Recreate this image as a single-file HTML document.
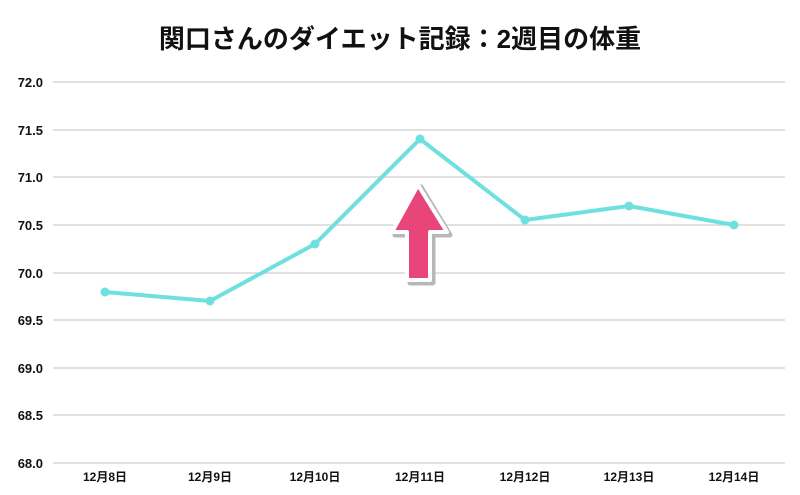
<!DOCTYPE html>
<html><head><meta charset="utf-8"><style>body{margin:0;background:#fff}svg{display:block}</style></head><body>
<svg width="800" height="495" xmlns="http://www.w3.org/2000/svg" font-family="Liberation Sans, Noto Sans CJK JP, sans-serif">
<text x="400" y="48" text-anchor="middle" font-size="26" font-weight="bold" fill="#111">関口さんのダイエット記録：2週目の体重</text>
<g stroke="#cfcfcf" stroke-width="1.2">
<line x1="53" x2="785" y1="82" y2="82"/><line x1="53" x2="785" y1="130" y2="130"/><line x1="53" x2="785" y1="177" y2="177"/><line x1="53" x2="785" y1="225" y2="225"/><line x1="53" x2="785" y1="273" y2="273"/><line x1="53" x2="785" y1="320" y2="320"/><line x1="53" x2="785" y1="368" y2="368"/><line x1="53" x2="785" y1="415" y2="415"/><line x1="53" x2="785" y1="463" y2="463"/>
</g>
<g font-size="13" font-weight="bold" fill="#111" text-anchor="end">
<text x="43" y="87">72.0</text><text x="43" y="135">71.5</text><text x="43" y="182">71.0</text><text x="43" y="230">70.5</text><text x="43" y="278">70.0</text><text x="43" y="325">69.5</text><text x="43" y="373">69.0</text><text x="43" y="420">68.5</text><text x="43" y="468">68.0</text>
</g>
<g font-size="12" font-weight="bold" fill="#111" text-anchor="middle">
<text x="105" y="481">12月8日</text><text x="210" y="481">12月9日</text><text x="315" y="481">12月10日</text><text x="420" y="481">12月11日</text><text x="525" y="481">12月12日</text><text x="629" y="481">12月13日</text><text x="734" y="481">12月14日</text>
</g>
<polyline fill="none" stroke="#6fe0e0" stroke-width="4" stroke-linejoin="round" points="105,292 210,301 315,244 420,139 525,220 629,206 734,225"/>
<g fill="#6fe0e0"><circle cx="105" cy="292" r="4.5"/><circle cx="210" cy="301" r="4.5"/><circle cx="315" cy="244" r="4.5"/><circle cx="420" cy="139" r="4.5"/><circle cx="525" cy="220" r="4.5"/><circle cx="629" cy="206" r="4.5"/><circle cx="734" cy="225" r="4.5"/></g>
<polygon points="421,187 450,235 433,235 433,283 410,283 410,235 395,235" fill="#b8b8b8" stroke="#b8b8b8" stroke-width="5" stroke-linejoin="round"/>
<polygon points="418,185 447,232 430,232 430,280 407,280 407,232 392,232" fill="#e8457a" stroke="#fff" stroke-width="4" stroke-linejoin="round"/>
</svg>
</body></html>
